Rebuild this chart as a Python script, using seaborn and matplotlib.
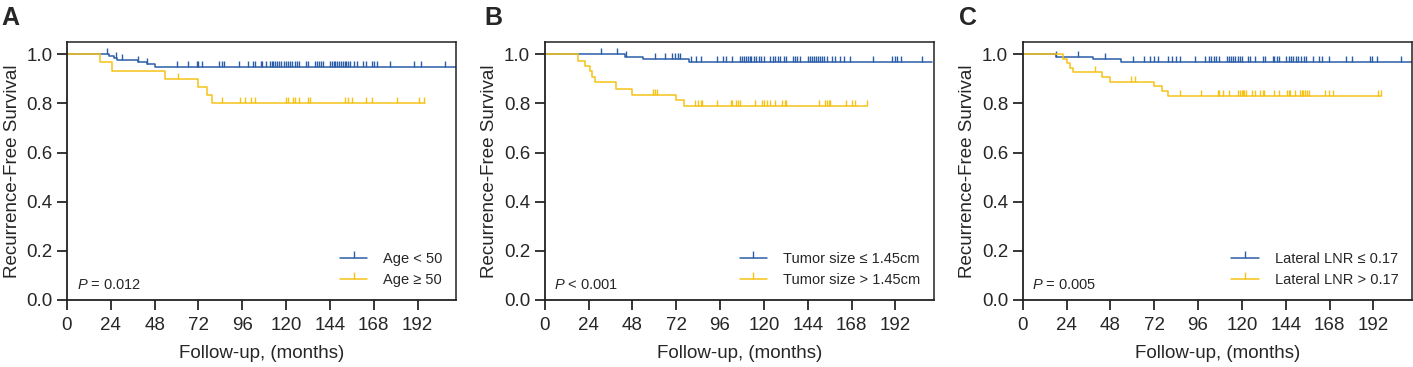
import numpy as np
import matplotlib
matplotlib.use("Agg")
import matplotlib.pyplot as plt
from matplotlib.markers import MarkerStyle
from matplotlib.transforms import Affine2D
from matplotlib.lines import Line2D
import seaborn as sns

# --- data (months, survival) ---
# Panel A: age
a_low_times = [0, 23, 26, 27.5, 39, 44, 48, 213]
a_low_surv = [1.0, 0.993, 0.986, 0.977, 0.968, 0.960, 0.947, 0.947]
a_low_censor = [22, 27, 30, 39, 44, 60, 66, 71, 72, 74, 83, 85, 86, 94, 99, 102, 103,
                106, 107, 109, 111, 112, 113, 114, 115, 116, 117, 119, 120, 121, 122,
                123, 125, 126, 127, 131, 132, 136, 137, 138, 139, 140, 144, 145, 146,
                147, 148, 149, 150, 151, 152, 153, 154, 155, 157, 159, 162, 164, 167,
                168, 170, 177, 190, 194, 207]
a_high_times = [0, 18.2, 24.6, 53.6, 72, 76.6, 79.2, 196]
a_high_surv = [1.0, 0.967, 0.933, 0.900, 0.867, 0.833, 0.800, 0.800]
a_high_censor = [61, 85, 95, 97.5, 101, 103, 120, 121, 123.6, 125, 127, 132, 133, 152,
                 154, 156, 164, 167, 180.5, 192.5, 195.6]

# Panel B: tumor size
b_low_times = [0, 43.9, 53.7, 79.2, 212]
b_low_surv = [1.0, 0.990, 0.980, 0.969, 0.969]
b_low_censor = [30.7, 39.7, 44.6, 60.4, 66.1, 69.7, 71.5, 72.8, 74, 80, 82.8, 85.8, 94.2,
                97.6, 99.5, 102.7, 106.7, 107.8, 109.1, 110, 111.1, 112.2, 113.2, 114.5,
                115.8, 117.2, 118.5, 120, 123.6, 124.9, 126.3, 127.8, 129, 130.9, 132.1,
                135.8, 136.8, 138.1, 139.9, 144.1, 145.2, 146.3, 147.4, 148.5, 149.5,
                150.8, 152.1, 153.2, 154.4, 157.2, 159, 161.7, 164.1, 167.2, 179.9,
                190.2, 192, 193.1, 195.3, 206.5]
b_high_times = [0, 18.3, 22, 24.7, 26.1, 27.8, 38.8, 47.9, 71.9, 76.5, 176.2]
b_high_surv = [1.0, 0.974, 0.952, 0.930, 0.908, 0.886, 0.860, 0.836, 0.812, 0.788, 0.788]
b_high_censor = [59.2, 60.4, 61.3, 82.4, 83.7, 85.5, 86, 94.6, 101.8, 102.7, 104.5, 106,
                 106.7, 115.1, 119, 120.3, 121.8, 123.6, 126.3, 129.9, 131.4, 132.1,
                 150.3, 153.5, 154.4, 155.4, 156.3, 164.8, 168.1, 169.9, 176.2]

# Panel C: lateral LNR
c_low_times = [0, 18.1, 38.6, 53.6, 213]
c_low_surv = [1.0, 0.990, 0.979, 0.968, 0.968]
c_low_censor = [18.2, 30.4, 45, 60.4, 66.2, 69.5, 71.7, 74.1, 79.5, 81.9, 84.1, 85.9,
                94.6, 99.9, 101.9, 103.2, 104.5, 105.9, 107.7, 111.7, 112.8, 114.1, 115.4,
                116.5, 117.7, 119, 120.1, 123.2, 124.7, 127.4, 131.4, 132.8, 136.9,
                137.8, 139, 140.1, 144.1, 145.6, 146.9, 148.1, 149.6, 151, 152.3, 154.1,
                155, 159.1, 162.3, 164.1, 167.8, 176.9, 180.5, 190, 191.4, 193.8, 206.9]
c_high_times = [0, 22.2, 24.3, 25.9, 27.6, 43.6, 47.6, 71.7, 76.5, 79.4, 196.4]
c_high_surv = [1.0, 0.982, 0.963, 0.945, 0.926, 0.907, 0.889, 0.870, 0.850, 0.830, 0.830]
c_high_censor = [39.5, 59.5, 61.3, 85.9, 97.7, 106.8, 107.7, 109.9, 113.2, 117.7, 118.7,
                 120.1, 120.8, 121.4, 122.3, 125.6, 127.4, 129.9, 131.4, 132.3, 137.8,
                 140.1, 144.5, 145.6, 146.3, 149.2, 151.8, 152.9, 153.6, 154.7, 155.4,
                 156.9, 165.6, 167.8, 170, 194.7, 196]

panel_letters = ["A", "B", "C"]
legend_labels = [["Age < 50", "Age \u2265 50"],
                 ["Tumor size \u2264 1.45cm", "Tumor size > 1.45cm"],
                 ["Lateral LNR \u2264 0.17", "Lateral LNR > 0.17"]]
p_texts = ["$P$ = 0.012", "$P$ < 0.001", "$P$ = 0.005"]
x_ticks = [0, 24, 48, 72, 96, 120, 144, 168, 192]
y_ticks = [0.0, 0.2, 0.4, 0.6, 0.8, 1.0]

# --- style ---
sns.set_style("ticks")
plt.rcParams["font.family"] = ["Liberation Sans", "DejaVu Sans"]
plt.rcParams["mathtext.fontset"] = "custom"
plt.rcParams["mathtext.it"] = "Liberation Sans:italic"
plt.rcParams["mathtext.rm"] = "Liberation Sans"

BLUE = "#2c5ea8"
YELLOW = "#f5c218"
# censor tick that sits on top of the curve
censor_mark = MarkerStyle("|", transform=Affine2D().translate(0, 0.5))


def draw_group(ax, times, surv, censor, color):
    sns.lineplot(x=times, y=surv, drawstyle="steps-post", color=color, lw=1.1,
                 estimator=None, ax=ax)
    t = np.asarray(times)
    s = np.asarray(surv)
    idx = np.searchsorted(t, censor, side="right") - 1
    sns.scatterplot(x=censor, y=s[idx], marker=censor_mark, s=18, color=color,
                    linewidth=1.0, ax=ax, legend=False)


fig = plt.figure(figsize=(14.13, 3.67), dpi=100)
lefts = [0.0474, 0.3855, 0.7238]
groups = [
    (a_low_times, a_low_surv, a_low_censor, a_high_times, a_high_surv, a_high_censor),
    (b_low_times, b_low_surv, b_low_censor, b_high_times, b_high_surv, b_high_censor),
    (c_low_times, c_low_surv, c_low_censor, c_high_times, c_high_surv, c_high_censor),
]
letter_x = [0.001, 0.343, 0.679]

for i, g in enumerate(groups):
    ax = fig.add_axes([lefts[i], 0.1826, 0.2753, 0.703])
    draw_group(ax, g[0], g[1], g[2], BLUE)
    draw_group(ax, g[3], g[4], g[5], YELLOW)

    ax.set_xlim(0, 213)
    ax.set_ylim(0, 1.05)
    ax.set_xticks(x_ticks)
    ax.set_yticks(y_ticks)
    ax.set_yticklabels([f"{v:.1f}" for v in y_ticks])
    ax.tick_params(length=7, width=1.1, labelsize=13.5, pad=3.5, color="black")
    ax.tick_params(axis="x", pad=5)
    for side in ["left", "bottom"]:
        ax.spines[side].set_linewidth(1.3)
        ax.spines[side].set_color("#222222")
    for side in ["top", "right"]:
        ax.spines[side].set_linewidth(1.1)
        ax.spines[side].set_color("#222222")

    ax.set_xlabel("Follow-up, (months)", fontsize=13.5, labelpad=8)
    ax.set_ylabel("Recurrence-Free Survival", fontsize=13.5, labelpad=4)

    handles = [
        Line2D([], [], color=BLUE, lw=1.1, marker=censor_mark, markersize=5, mew=1.0),
        Line2D([], [], color=YELLOW, lw=1.1, marker=censor_mark, markersize=5, mew=1.0),
    ]
    ax.legend(handles, legend_labels[i], loc="lower right", frameon=False,
              fontsize=10.5, handlelength=1.9, handletextpad=1.1, labelspacing=0.45,
              numpoints=1, borderaxespad=0.5)
    ax.text(0.025, 0.058, p_texts[i], transform=ax.transAxes, fontsize=10.5,
            va="center", ha="left")

    fig.text(letter_x[i], 0.985, panel_letters[i], fontsize=18, fontweight="bold",
             va="top", ha="left")

fig.savefig("out.png", dpi=100)
